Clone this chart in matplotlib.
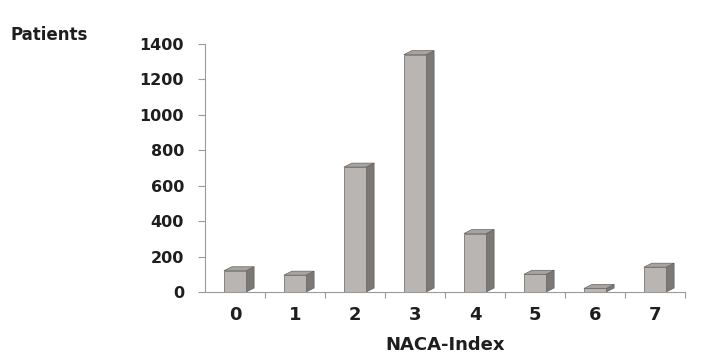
import matplotlib
matplotlib.use("Agg")
import matplotlib.pyplot as plt
from matplotlib.patches import Polygon

categories = ["0", "1", "2", "3", "4", "5", "6", "7"]
patients = [120, 95, 705, 1340, 330, 100, 20, 140]
yticks = [0, 200, 400, 600, 800, 1000, 1200, 1400]

plt.rcParams['font.family'] = ['DejaVu Sans']

fig = plt.figure(figsize=(7.05, 3.58), dpi=100)
ax_w_px, ax_h_px = 480, 248
ax = fig.add_axes([205/705, 1-292/358, ax_w_px/705, ax_h_px/358])

front = '#b9b5b2'
side = '#7b7876'
top = '#a6a3a0'
edge = '#666462'
txt = '#1e1e1e'

xmin, xmax = -0.5, len(categories) - 0.5
ymin, ymax = 0, 1400
width = 0.37
# depth of the 3D look, in pixels converted to data units
dx = 8 * (xmax - xmin) / ax_w_px
dy = 4 * (ymax - ymin) / ax_h_px

xs = list(range(len(categories)))
ax.bar(xs, patients, width=width, color=front, edgecolor=edge,
       linewidth=0.5, zorder=3)

for x, v in zip(xs, patients):
    l, r = x - width/2, x + width/2
    side_poly = [(r, 0), (r, v), (r + dx, v + dy), (r + dx, dy)]
    top_poly = [(l, v), (r, v), (r + dx, v + dy), (l + dx, v + dy)]
    for poly, c in ((side_poly, side), (top_poly, top)):
        ax.add_patch(Polygon(poly, closed=True, facecolor=c, edgecolor=edge,
                             linewidth=0.5, zorder=2, clip_on=False))

ax.set_xlim(xmin, xmax)
ax.set_ylim(ymin, ymax)
ax.set_yticks(yticks)
ax.set_yticklabels([str(t) for t in yticks], fontsize=11.5, fontweight='bold', color=txt)

ax.set_xticks([i + 0.5 for i in range(len(categories))])
ax.set_xticklabels([])
ax.set_xticks(xs, minor=True)
ax.set_xticklabels(categories, minor=True, fontsize=13, fontweight='bold', color=txt)
ax.tick_params(axis='x', which='minor', length=0, pad=10)
ax.tick_params(axis='x', which='major', length=4, color='#9a9a9a', width=0.8)
ax.tick_params(axis='y', length=5, color='#9a9a9a', width=0.8, pad=10)

for s in ('top', 'right'):
    ax.spines[s].set_visible(False)
for s in ('left', 'bottom'):
    ax.spines[s].set_color('#9a9a9a')
    ax.spines[s].set_linewidth(0.8)

ax.set_xlabel('NACA-Index', fontsize=13, fontweight='bold', color=txt, labelpad=9)
fig.text(10/705, 1-35/358, 'Patients', fontsize=12, fontweight='bold', color=txt,
         ha='left', va='center')

fig.savefig('out.png', dpi=100)
